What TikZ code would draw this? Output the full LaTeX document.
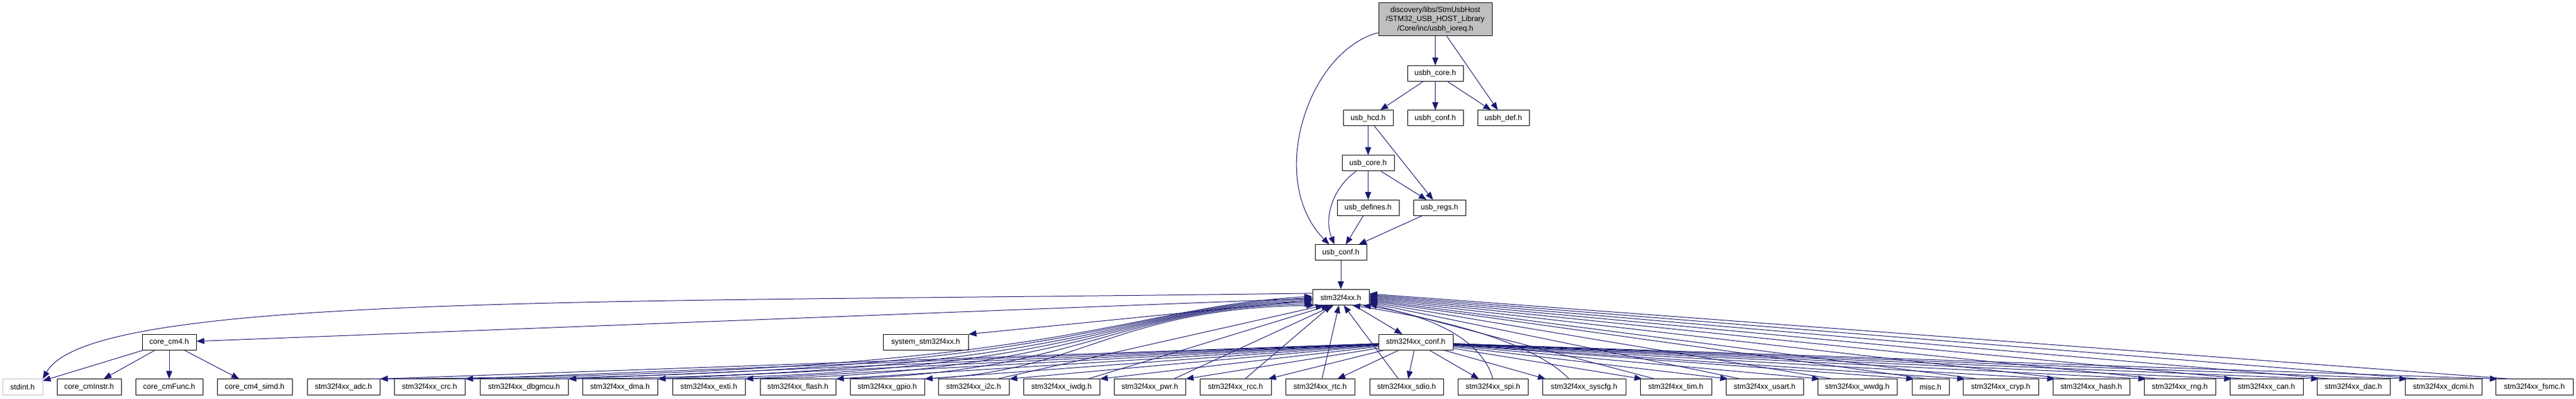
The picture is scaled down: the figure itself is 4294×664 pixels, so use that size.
\documentclass[tikz,border=0pt]{standalone}
\usepackage{fontspec}
\setmainfont{Liberation Sans}
\usetikzlibrary{arrows.meta}
\definecolor{edgeblue}{HTML}{191970}
\definecolor{nodegray}{HTML}{BFBFBF}

\begin{document}
\begin{tikzpicture}[x=1pt,y=1pt,
    filebox/.style={draw=black, fill=white, line width=1pt, minimum height=26pt,
      inner sep=0pt, font=\fontsize{12.6}{15.6}\selectfont},
    inc/.style={edgeblue, line width=1pt, -{Triangle[length=13pt,width=10pt]}}]
\useasboundingbox (0,0) rectangle (4294,664);

\node[filebox, fill=nodegray, minimum width=189pt, minimum height=55pt, align=center] (ioreq) at (2392.5,631.5)
  {discovery/libs/StmUsbHost\\/STM32\_USB\_HOST\_Library\\/Core/inc/usbh\_ioreq.h};
\node[filebox, minimum width=93pt] (usbhcore) at (2392.5,541.5) {usbh\_core.h};
\node[filebox, minimum width=83pt] (usbhcd) at (2280.5,467) {usb\_hcd.h};
\node[filebox, minimum width=93pt] (usbhconf) at (2392.5,467) {usbh\_conf.h};
\node[filebox, minimum width=86pt] (usbhdef) at (2506,467) {usbh\_def.h};
\node[filebox, minimum width=87pt] (usbcore) at (2280.5,392) {usb\_core.h};
\node[filebox, minimum width=103pt] (usbdefs) at (2280.5,317.5) {usb\_defines.h};
\node[filebox, minimum width=87pt] (usbregs) at (2399.5,317.5) {usb\_regs.h};
\node[filebox, minimum width=86pt] (usbconf) at (2235,243) {usb\_conf.h};
\node[filebox, minimum width=94pt] (stm) at (2235,168.5) {stm32f4xx.h};

\node[filebox, minimum width=90pt] (cm4) at (282,93.5) {core\_cm4.h};
\node[filebox, minimum width=142pt] (sys) at (1543,93.5) {system\_stm32f4xx.h};
\node[filebox, minimum width=124pt] (stmconf) at (2360,93.5) {stm32f4xx\_conf.h};

\node[filebox, draw=nodegray, minimum width=67pt] (stdint) at (37.5,19) {stdint.h};
\node[filebox, minimum width=107pt] (cminstr) at (148.5,19) {core\_cmInstr.h};
\node[filebox, minimum width=112pt] (cmfunc) at (282,19) {core\_cmFunc.h};
\node[filebox, minimum width=125pt] (simd) at (424.5,19) {core\_cm4\_simd.h};
\node[filebox, minimum width=62pt] (misc) at (3218,19) {misc.h};
\foreach \nm/\cx/\w in {adc/572.5/121, crc/716/118, dbgmcu/873.5/147, dma/1033.5/125,
    exti/1181.5/121, flash/1330/126, gpio/1479/124, i2c/1623/118, iwdg/1769.5/127,
    pwr/1916.5/119, rcc/2059.5/119, rtc/2200.5/115, sdio/2344.5/123, spi/2488.5/117,
    syscfg/2640.5/139, tim/2793.5/119, usart/2941.5/129, wwdg/3096/132, cryp/3335/126,
    hash/3486/128, rng/3633.5/119, can/3778/122, dac/3923/122, dcmi/4073/128, fsmc/4224.5/129}
  \node[filebox, minimum width=\w pt] (\nm) at (\cx,19) {stm32f4xx\_\nm.h};

% usb host part
\draw[inc] (ioreq) -- (usbhcore);
\draw[inc] (ioreq) -- (usbhdef);
\draw[inc] (ioreq.193) .. controls (2180,579) and (2110,364) .. (usbconf.145);
\draw[inc] (usbhcore) -- (usbhcd);
\draw[inc] (usbhcore) -- (usbhconf);
\draw[inc] (usbhcore) -- (usbhdef);
\draw[inc] (usbhcd) -- (usbcore);
\draw[inc] (usbhcd) -- (usbregs);
\draw[inc] (usbcore) -- (usbdefs);
\draw[inc] (usbcore) -- (usbregs);
\draw[inc] (usbcore.214) .. controls (2225,354) and (2205,304) .. (usbconf.128);
\draw[inc] (usbdefs) -- (usbconf);
\draw[inc] (usbregs) -- (usbconf);
\draw[inc] (usbconf) -- (stm);

% stm32f4xx.h
\draw[inc] (stm) -- (cm4);
\draw[inc] (stm.172) .. controls (1000,159) and (150,175) .. (stdint.north east);
\draw[inc] (stm) -- (sys.north east);
\draw[inc] (stm) -- (stmconf);
\draw[inc] (cm4) -- (stdint);
\draw[inc] (cm4) -- (cminstr);
\draw[inc] (cm4) -- (cmfunc);
\draw[inc] (cm4) -- (simd);

% drivers
\foreach \nm/\a in {adc/178, crc/181, dbgmcu/184, dma/187, exti/190, flash/193, gpio/197} {
  \draw[inc] (stmconf) -- (\nm.north east);
  \draw[inc] ([xshift=-14pt]\nm.north east) .. controls (1800,38) and (1850,150) .. (stm.\a);
}
\foreach \nm/\a in {i2c/205, iwdg/215, pwr/228} {
  \draw[inc] (stmconf) -- (\nm.north east);
  \draw[inc] ([xshift=-20pt]\nm.north east) -- (stm.\a);
}
\draw[inc] (stmconf) -- (rcc);
\draw[inc] (rcc) -- (stm);
\draw[inc] (stmconf) -- (rtc);
\draw[inc] (rtc) -- (stm);
\draw[inc] (stmconf) -- (sdio);
\draw[inc] (sdio.135) -- (stm.-70);
\draw[inc] (stmconf) -- (spi);
\draw[inc] (spi.north) .. controls (2470,100) and (2380,140) .. (stm.-20);
\draw[inc] (stmconf) -- ([xshift=6pt]syscfg.north west);
\draw[inc] ([xshift=45pt]syscfg.north west) .. controls (2560,90) and (2420,130) .. (stm.-35);
\foreach \nm/\a in {tim/-13, usart/-11, wwdg/-9, misc/-7, cryp/-5, hash/-3, rng/-1,
    can/1, dac/3, dcmi/5, fsmc/7} {
  \draw[inc] (stmconf) -- ([xshift=4pt]\nm.north west);
  \draw[inc] ([xshift=25pt]\nm.north west) -- (stm.\a);
}
\end{tikzpicture}
\end{document}
